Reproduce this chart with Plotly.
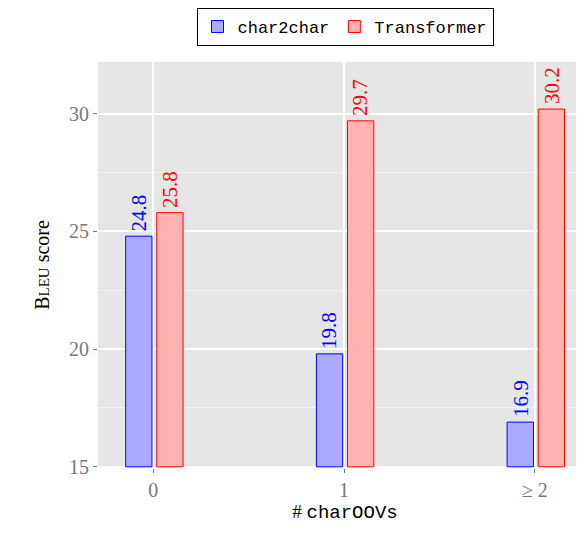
import plotly.graph_objects as go

categories = [0, 1, 2]
tick_labels = ["0", "1", "≥ 2"]
char2char = [24.8, 19.8, 16.9]
transformer = [25.8, 29.7, 30.2]
base = 15

fig = go.Figure()
series = [("char2char", char2char, -0.145, "rgba(170,170,255,1)", "blue"),
          ("Transformer", transformer, 0.018, "rgba(255,178,178,1)", "red")]
for name, vals, off, fill, edge in series:
    fig.add_trace(go.Bar(x=categories, y=[v - base for v in vals], base=base, name=name,
                         offset=off, width=0.138,
                         marker=dict(color=fill, line=dict(color=edge, width=1))))
    for c, v in zip(categories, vals):
        fig.add_annotation(x=c + off + 0.069, y=v, text=f"{v:.1f}", textangle=-90,
                           showarrow=False, yanchor="bottom", yshift=3,
                           font=dict(color=edge, size=21, family="Liberation Serif"))

fig.update_layout(
    width=584, height=534, barmode="overlay",
    margin=dict(l=90, r=0, t=54, b=74),
    plot_bgcolor="#e5e5e5", paper_bgcolor="white",
    font=dict(family="Liberation Serif", size=20, color="black"),
    legend=dict(orientation="h", x=0.5, xanchor="center", y=1.04, yanchor="bottom",
                bordercolor="black", borderwidth=1, font=dict(family="Liberation Mono", size=17),
                itemwidth=30, tracegroupgap=0),
    xaxis=dict(range=[-0.29, 2.3], tickvals=categories, ticktext=tick_labels, automargin=False,
               tickfont=dict(color="#777", size=20), gridcolor="white", gridwidth=2,
               zeroline=False, ticks="outside", ticklen=4, tickcolor="#777",
               title=dict(text="# <span style='font-family:Liberation Mono'>charOOVs</span>",
                          font=dict(size=19), standoff=4)),
    yaxis=dict(range=[14.95, 32.2], tickvals=[15, 20, 25, 30], automargin=False,
               tickfont=dict(color="#777", size=20), gridcolor="white", gridwidth=2,
               minor=dict(tickvals=[17.5, 22.5, 27.5, 32.5], gridcolor="#f2f2f2", gridwidth=1),
               zeroline=False, ticks="outside", ticklen=4, tickcolor="#777",
               title=dict(text="B<span style='font-size:15px'>LEU</span> score", font=dict(size=20), standoff=14)),
)
fig.write_html("out.html")
